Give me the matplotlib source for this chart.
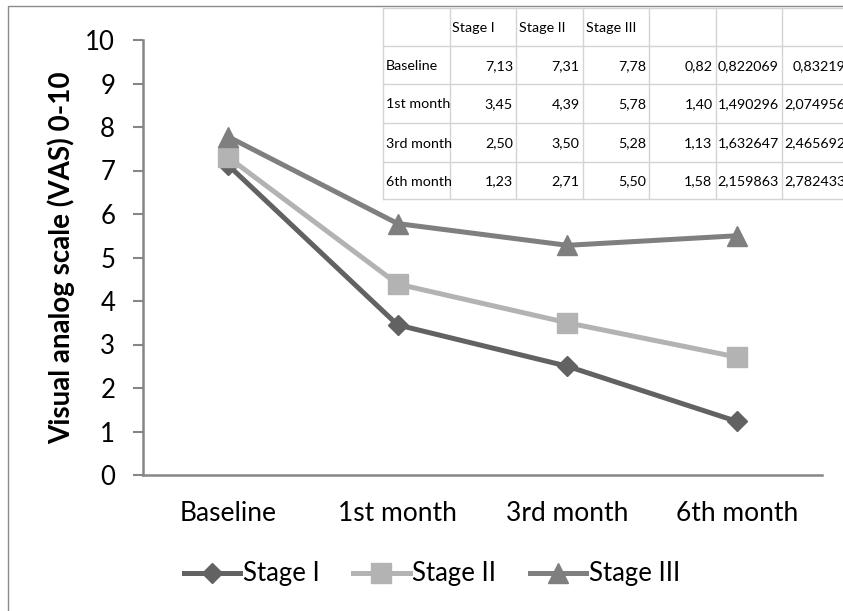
import numpy as np
import matplotlib.pyplot as plt
from matplotlib.patches import Rectangle

plt.rcParams['font.family'] = ['Lato', 'DejaVu Sans']

# VAS scores per stage
periods = ['Baseline', '1st month', '3rd month', '6th month']
stage_1 = [7.13, 3.45, 2.50, 1.23]
stage_2 = [7.31, 4.39, 3.50, 2.71]
stage_3 = [7.78, 5.78, 5.28, 5.50]
series_names = ['Stage I', 'Stage II', 'Stage III']

# worksheet columns left of the chart
table_head = ['', 'Stage I', 'Stage II', 'Stage III', '', '', '']
row_names = ['Baseline', '1st month', '3rd month', '6th month']
extra_a = ['0,82', '1,40', '1,13', '1,58']
extra_b = ['0,822069', '1,490296', '1,632647', '2,159863']
extra_c = ['0,83219', '2,074956', '2,465692', '2,782433']

W, H = 843, 611
fig = plt.figure(figsize=(W / 100, H / 100), dpi=100)

# chart area border
border = Rectangle((8 / W, -0.1), 900 / W, 1.1 - 6 / H, transform=fig.transFigure,
                   fill=False, edgecolor='#8a8a8a', lw=1.0)
fig.patches.append(border)

axis_col = '#868686'
fs = 18.5
ax = fig.add_axes([143 / W, 1 - 475 / H, (822 - 143) / W, (475 - 40) / H])
x = np.arange(len(periods))
ax.plot(x, stage_1, color='#626262', lw=3.6, marker='D', ms=10, label=series_names[0])
ax.plot(x, stage_2, color='#b3b3b3', lw=3.6, marker='s', ms=14, label=series_names[1])
ax.plot(x, stage_3, color='#7f7f7f', lw=3.6, marker='^', ms=14, label=series_names[2])

ax.set_xlim(-0.5, 3.5)
ax.set_ylim(0, 10)
ax.set_yticks(range(0, 11))
ax.set_xticks(x)
ax.set_xticklabels(periods)
ax.tick_params(axis='y', length=7, width=1.5, color=axis_col, labelsize=fs, pad=13)
ax.tick_params(axis='x', length=0, labelsize=19, pad=19)
for s in ['top', 'right']:
    ax.spines[s].set_visible(False)
for s in ['left', 'bottom']:
    ax.spines[s].set_color(axis_col)
    ax.spines[s].set_linewidth(1.8)
ax.set_ylabel('Visual analog scale (VAS) 0-10', fontsize=20, fontweight='bold')
ax.yaxis.set_label_coords((75 - 143) / 679, 0.5)

fig.legend(loc='center', bbox_to_anchor=(432 / W, 1 - 574 / H), ncol=3, frameon=False,
           fontsize=fs, handlelength=2.2, handletextpad=0.1, columnspacing=1.3)

# pasted worksheet block
tax = fig.add_axes([0, 0, 1, 1], zorder=5)
tax.set_xlim(0, W)
tax.set_ylim(H, 0)
tax.axis('off')
col_x = 383 + 66.5 * np.arange(8)
row_y = [8, 46, 84, 123, 162, 199]
tax.add_patch(Rectangle((col_x[0], row_y[0]), W, row_y[-1] - row_y[0],
                        facecolor='white', edgecolor='none'))
grid_col = '#d4d4d4'
for cx in col_x:
    tax.plot([cx, cx], [row_y[0], row_y[-1]], color=grid_col, lw=1)
for ry in row_y:
    tax.plot([col_x[0], W], [ry, ry], color=grid_col, lw=1)

cell_fs = 10.3
for j, name in enumerate(table_head):
    if name:
        tax.text(col_x[j] + 3, (row_y[0] + row_y[1]) / 2 + 1, name, fontsize=cell_fs,
                 ha='left', va='center')
for i, name in enumerate(row_names):
    yc = (row_y[i + 1] + row_y[i + 2]) / 2 + 1
    t = tax.text(col_x[0] + 3, yc, name, fontsize=cell_fs, ha='left', va='center')
    t.set_clip_path(Rectangle((col_x[0], row_y[i + 1]), col_x[1] - col_x[0] - 1,
                              row_y[i + 2] - row_y[i + 1], transform=tax.transData))
    vals = [f'{stage_1[i]:.2f}'.replace('.', ','), f'{stage_2[i]:.2f}'.replace('.', ','),
            f'{stage_3[i]:.2f}'.replace('.', ','), extra_a[i], extra_b[i], extra_c[i]]
    for j, v in enumerate(vals):
        tax.text(col_x[j + 2] - 3, yc, v, fontsize=cell_fs, ha='right', va='center')

fig.savefig('out.png', dpi=100)
